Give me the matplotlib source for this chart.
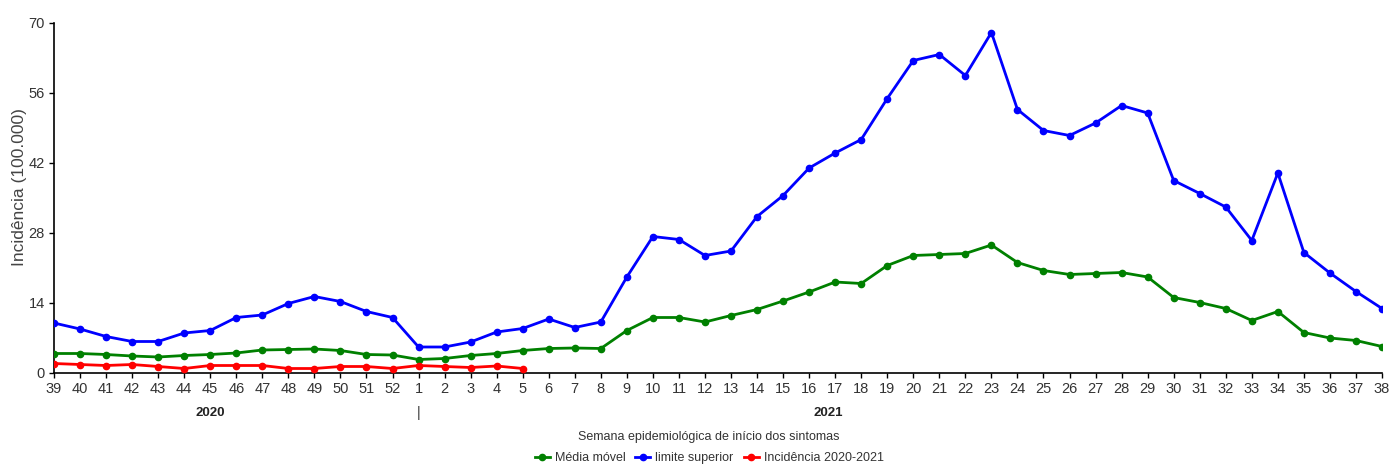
import matplotlib
matplotlib.use("Agg")
import matplotlib.pyplot as plt
import numpy as np

plt.rcParams['font.family'] = ['Liberation Sans', 'DejaVu Sans']

# semanas epidemiologicas (2020: 39-52, 2021: 1-38)
semanas = [str(s) for s in range(39, 53)] + [str(s) for s in range(1, 39)]

media_movel = [3.9, 3.9, 3.7, 3.4, 3.2, 3.5, 3.7, 4.0, 4.6, 4.7, 4.8, 4.5, 3.7, 3.6,
               2.7, 2.9, 3.5, 3.9, 4.5, 4.9, 5.0, 4.9, 8.5, 11.1, 11.1, 10.2, 11.5,
               12.7, 14.4, 16.2, 18.2, 17.9, 21.5, 23.5, 23.7, 23.9, 25.6, 22.1, 20.5,
               19.7, 19.9, 20.1, 19.2, 15.1, 14.1, 12.9, 10.5, 12.3, 8.1, 7.0, 6.5, 5.3]

limite_superior = [10.0, 8.8, 7.3, 6.3, 6.3, 8.0, 8.5, 11.1, 11.6, 13.9, 15.3, 14.3, 12.3, 11.1,
                   5.2, 5.2, 6.2, 8.2, 8.9, 10.8, 9.1, 10.2, 19.2, 27.3, 26.7, 23.5, 24.4,
                   31.3, 35.5, 41.0, 44.0, 46.7, 54.9, 62.5, 63.7, 59.5, 68.1, 52.7, 48.5,
                   47.5, 50.0, 53.5, 52.0, 38.5, 35.9, 33.2, 26.5, 40.0, 24.1, 20.0, 16.3, 12.9]

incidencia = [1.9, 1.7, 1.5, 1.7, 1.3, 0.9, 1.5, 1.5, 1.5, 0.9, 0.9, 1.3, 1.3, 0.9,
              1.5, 1.3, 1.1, 1.4, 0.9]

y_ticks = [0, 14, 28, 42, 56, 70]

fig = plt.figure(figsize=(13.92, 4.66), dpi=100)
ax = fig.add_axes([54 / 1392, 93 / 466, 1328 / 1392, 350 / 466])

x = np.arange(len(semanas))
x_inc = np.arange(len(incidencia))

ax.plot(x, limite_superior, color="#0000ff", lw=2.0, marker="o", ms=4.5,
        label="limite superior", zorder=3)
ax.plot(x, media_movel, color="#008000", lw=2.0, marker="o", ms=4.5,
        label="Média móvel", zorder=4)
ax.plot(x_inc, incidencia, color="#ff0000", lw=2.0, marker="o", ms=4.5,
        label="Incidência 2020-2021", zorder=5)

ax.set_xlim(0, len(semanas) - 1)
ax.set_ylim(0, 70)
ax.set_yticks(y_ticks)
ax.set_xticks(x)
ax.set_xticklabels(semanas)
ax.tick_params(axis="both", labelsize=10.5, labelcolor="#333333", length=3.5, width=1, pad=3)
for s in ["top", "right"]:
    ax.spines[s].set_visible(False)
for s in ["left", "bottom"]:
    ax.spines[s].set_color("black")
    ax.spines[s].set_linewidth(1.2)

ax.set_ylabel("Incidência (100.000)", fontsize=12.5, color="#444444")
ax.yaxis.set_label_coords(-0.0203, 0.53)

# rotulos de ano
ax.text(6.0, -0.115, "2020", transform=ax.get_xaxis_transform(), ha="center", va="center",
        fontsize=9.5, fontweight="bold", color="#222222")
ax.text(29.75, -0.115, "2021", transform=ax.get_xaxis_transform(), ha="center", va="center",
        fontsize=9.5, fontweight="bold", color="#222222")
ax.text(14, -0.115, "|", transform=ax.get_xaxis_transform(), ha="center", va="center",
        fontsize=10, color="#333333")

fig.text(709 / 1392, 1 - 437 / 466, "Semana epidemiológica de início dos sintomas",
         ha="center", va="center", fontsize=9, color="#333333")

handles, labels = ax.get_legend_handles_labels()
order = [1, 0, 2]
leg = fig.legend([handles[i] for i in order], [labels[i] for i in order],
                 loc="center", bbox_to_anchor=(709 / 1392, 1 - 458 / 466), ncol=3,
                 frameon=False, fontsize=9, handlelength=1.2, handletextpad=0.4,
                 columnspacing=0.8, borderpad=0)
for t in leg.get_texts():
    t.set_color("#333333")

plt.savefig("out.png", dpi=100)
